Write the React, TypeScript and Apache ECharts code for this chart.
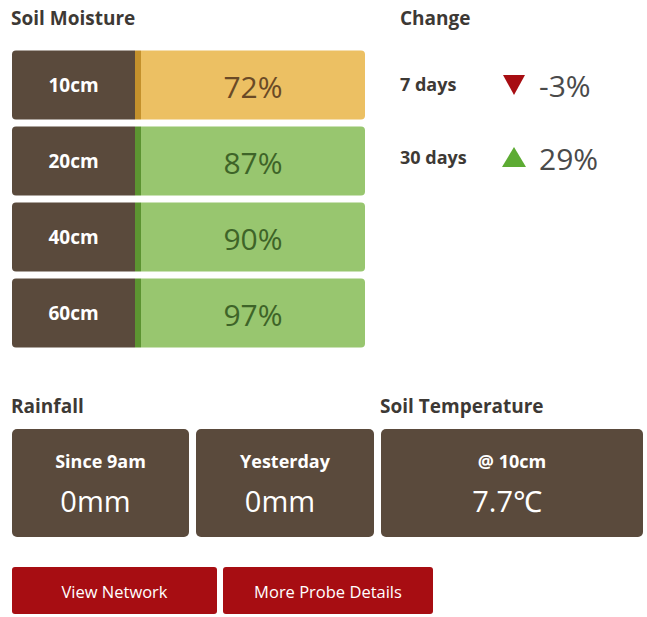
import React, { useEffect, useRef } from "react";
import * as echarts from "echarts";

// ---- data ----
const depths = ["10cm", "20cm", "40cm", "60cm"];
const moisture = [72, 87, 90, 97];
const moistureThreshold = 80; // below -> yellow, otherwise green
const changePeriods = ["7 days", "30 days"];
const changeValues = [-3, 29];
const rainfallLabels = ["Since 9am", "Yesterday"];
const rainfallValues = [0, 0];
const soilTempDepth = "@ 10cm";
const soilTempValue = 7.7;
const buttonLabels = ["View Network", "More Probe Details"];

const FONT = "'Open Sans', 'Noto Sans', sans-serif";
const BROWN = "#5a4a3c";
const TITLE = "#3d3935";
const YELLOW = "#ecc063";
const YELLOW_DARK = "#c4912c";
const GREEN = "#98c66f";
const GREEN_DARK = "#5c9431";
const RED = "#a70d12";
const UP_GREEN = "#5dab33";

export default function App() {
  const ref = useRef<HTMLDivElement>(null);
  useEffect(() => {
    if (!ref.current) return;
    const chart = echarts.init(ref.current, null, { renderer: "svg" });

    const graphic: any[] = [];
    const title = (text: string, x: number, y: number) => ({
      type: "text",
      x,
      y,
      style: {
        text,
        fill: TITLE,
        fontFamily: FONT,
        fontWeight: "bold",
        fontSize: 19,
        textVerticalAlign: "middle",
      },
    });
    graphic.push(title("Soil Moisture", 11, 18));
    graphic.push(title("Change", 400, 18));
    graphic.push(title("Rainfall", 11, 406));
    graphic.push(title("Soil Temperature", 380, 406));

    // change rows
    const changeY = [84, 157];
    changePeriods.forEach((p, i) => {
      const cy = changeY[i];
      const v = changeValues[i];
      graphic.push({
        type: "text",
        x: 400,
        y: cy,
        style: {
          text: p,
          fill: TITLE,
          fontFamily: FONT,
          fontWeight: "bold",
          fontSize: 18,
          textVerticalAlign: "middle",
        },
      });
      const cx = 514;
      const pts =
        v < 0
          ? [
              [cx - 11, cy - 9],
              [cx + 11, cy - 9],
              [cx, cy + 11],
            ]
          : [
              [cx - 12, cy + 10],
              [cx + 12, cy + 10],
              [cx, cy - 10],
            ];
      graphic.push({
        type: "polygon",
        shape: { points: pts },
        style: { fill: v < 0 ? RED : UP_GREEN },
      });
      graphic.push({
        type: "text",
        x: 539,
        y: cy + 1,
        style: {
          text: `${v}%`,
          fill: "#4a4a4a",
          fontFamily: FONT,
          fontSize: 30,
          fontWeight: "normal",
          textVerticalAlign: "middle",
        },
      });
    });

    // rainfall + temperature boxes
    const boxes = [
      { x: 12, w: 177, label: rainfallLabels[0], value: `${rainfallValues[0]}mm` },
      { x: 196, w: 178, label: rainfallLabels[1], value: `${rainfallValues[1]}mm` },
      { x: 381, w: 262, label: soilTempDepth, value: `${soilTempValue}℃` },
    ];
    boxes.forEach((b) => {
      graphic.push({
        type: "rect",
        shape: { x: b.x, y: 429, width: b.w, height: 108, r: 5 },
        style: { fill: BROWN },
      });
      graphic.push({
        type: "text",
        x: b.x + b.w / 2,
        y: 461,
        style: {
          text: b.label,
          fill: "#ffffff",
          fontFamily: FONT,
          fontWeight: "bold",
          fontSize: 18,
          textAlign: "center",
          textVerticalAlign: "middle",
        },
      });
      graphic.push({
        type: "text",
        x: b.x + b.w / 2 - 5,
        y: 500,
        style: {
          text: b.value,
          fill: "#ffffff",
          fontFamily: FONT,
          fontSize: 29,
          fontWeight: "normal",
          textAlign: "center",
          textVerticalAlign: "middle",
        },
      });
    });

    // buttons
    const btns = [
      { x: 12, w: 205 },
      { x: 223, w: 210 },
    ];
    buttonLabels.forEach((t, i) => {
      const b = btns[i];
      graphic.push({
        type: "rect",
        shape: { x: b.x, y: 567, width: b.w, height: 47, r: 3 },
        style: { fill: RED },
      });
      graphic.push({
        type: "text",
        x: b.x + b.w / 2,
        y: 591,
        style: {
          text: t,
          fill: "#ffffff",
          fontFamily: FONT,
          fontSize: 16.5,
          textAlign: "center",
          textVerticalAlign: "middle",
        },
      });
    });

    const option: any = {
      animation: false,
      backgroundColor: "#ffffff",
      grid: { left: 12, width: 353, top: 47, height: 304 },
      xAxis: { type: "value", min: 0, max: 1, show: false },
      yAxis: { type: "category", data: depths, inverse: true, show: false },
      series: [
        {
          type: "custom",
          data: moisture.map((v, i) => [0, i, v]),
          encode: { x: 0, y: 1 },
          renderItem: (params: any, api: any) => {
            const idx = api.value(1);
            const val = api.value(2);
            const pt = api.coord([0, idx]);
            const band = api.size([0, 1])[1];
            const h = band - 7;
            const left = params.coordSys.x;
            const width = params.coordSys.width;
            const top = pt[1] - h / 2;
            const labelW = 123;
            const stripeW = 6;
            const low = val < moistureThreshold;
            const fill = low ? YELLOW : GREEN;
            const stripe = low ? YELLOW_DARK : GREEN_DARK;
            const txt = low ? "#6a4a26" : "#3e6428";
            const fillX = left + labelW + stripeW;
            return {
              type: "group",
              children: [
                {
                  type: "rect",
                  shape: { x: left, y: top, width: labelW, height: h, r: [4, 0, 0, 4] },
                  style: { fill: BROWN },
                },
                {
                  type: "rect",
                  shape: { x: left + labelW, y: top, width: stripeW, height: h },
                  style: { fill: stripe },
                },
                {
                  type: "rect",
                  shape: { x: fillX, y: top, width: left + width - fillX, height: h, r: [0, 4, 4, 0] },
                  style: { fill },
                },
                {
                  type: "text",
                  x: left + labelW / 2,
                  y: pt[1],
                  style: {
                    text: depths[idx],
                    fill: "#ffffff",
                    fontFamily: FONT,
                    fontWeight: "bold",
                    fontSize: 19,
                    textAlign: "center",
                    textVerticalAlign: "middle",
                  },
                },
                {
                  type: "text",
                  x: fillX + (left + width - fillX) / 2,
                  y: pt[1] + 1,
                  style: {
                    text: `${val}%`,
                    fill: txt,
                    fontFamily: FONT,
                    fontSize: 30,
                    fontWeight: "normal",
                    textAlign: "center",
                    textVerticalAlign: "middle",
                  },
                },
              ],
            };
          },
        },
      ],
      graphic,
    };
    chart.setOption(option);
    return () => chart.dispose();
  }, []);

  return (
    <div
      ref={ref}
      style={{ position: "absolute", left: 0, top: 0, width: 647, height: 617 }}
    />
  );
}
